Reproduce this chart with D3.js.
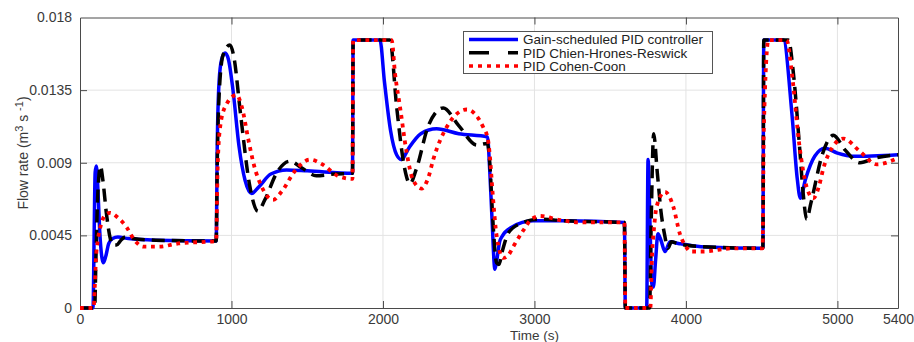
<!DOCTYPE html>
<html><head><meta charset="utf-8">
<script src="https://cdn.jsdelivr.net/npm/d3@7"></script>
<style>body{margin:0;background:#fff}svg{display:block}text{font-family:"Liberation Sans",Arial,sans-serif}</style>
</head><body><svg id="c" width="914" height="342"></svg>
<script>
const xTicks = [0,1000,2000,3000,4000,5000,5400];
const yTicks = [0,0.0045,0.009,0.0135,0.018];
const yTickLabels = ["0","0.0045","0.009","0.0135","0.018"];
const seriesNames = ["Gain-scheduled PID controller","PID Chien-Hrones-Reswick","PID Cohen-Coon"];

// Gain-scheduled PID
const gsT = [0,86,94,100,108,118,130,145,155,170,190,215,250,320,500,899,906,918,935,958,980,1010,1050,1090,1133,1180,1260,1364,1500,1799,1803,1980,2010,2050,2090,2123,2170,2250,2354,2500,2690,2705,2720,2739,2752,2770,2784,2850,2990,3200,3594,3600,3741,3750,3762,3775,3785,3800,3815,3835,3862,3895,3950,4100,4508,4514,4643,4700,4735,4755,4790,4850,4918,5000,5103,5400];
const gsQ = [0,0,0.0050,0.0084,0.0088,0.0074,0.0048,0.0031,0.0028,0.0032,0.0040,0.0043,0.0044,0.0043,0.0042,0.00415,0.0100,0.0140,0.0154,0.0158,0.0154,0.0135,0.0100,0.0079,0.0071,0.0075,0.0083,0.00855,0.0085,0.00835,0.0166,0.0166,0.0140,0.0110,0.0095,0.0092,0.0099,0.0108,0.0111,0.0108,0.0106,0.0085,0.0055,0.0024,0.0030,0.0041,0.0044,0.0050,0.0054,0.0054,0.0053,0,0,0.0092,0.0055,0.0015,0.0013,0.0030,0.0046,0.0042,0.0035,0.0041,0.0040,0.0038,0.0037,0.0166,0.0166,0.0120,0.0080,0.0068,0.0080,0.0094,0.0099,0.0096,0.0094,0.0095];

// PID Chien-Hrones-Reswick
const chrT = [0,97,105,115,125,135,150,175,200,215,240,270,300,350,500,899,906,920,945,990,1015,1060,1120,1175,1220,1300,1386,1460,1560,1680,1799,1803,2046,2090,2140,2178,2220,2300,2398,2500,2620,2690,2705,2725,2750,2765,2790,2825,2900,3036,3200,3594,3600,3760,3770,3787,3810,3835,3860,3880,3905,3940,4100,4508,4514,4676,4710,4750,4775,4797,4825,4900,4973,5050,5149,5250,5400];
const chrQ = [0,0,0.0030,0.0065,0.0082,0.0088,0.0080,0.0058,0.0043,0.0039,0.0039,0.0042,0.0044,0.0043,0.0042,0.00415,0.0090,0.0135,0.0157,0.0163,0.0156,0.0120,0.0076,0.0060,0.0067,0.0084,0.0091,0.0087,0.0082,0.0083,0.00835,0.0166,0.0166,0.0125,0.0088,0.0077,0.0086,0.0113,0.0124,0.0113,0.0101,0.0102,0.0090,0.0055,0.0028,0.0027,0.0036,0.0046,0.0052,0.0055,0.0054,0.0053,0,0,0.0050,0.0108,0.0085,0.0060,0.0045,0.0037,0.0041,0.0040,0.0038,0.0037,0.0166,0.0166,0.0145,0.0100,0.0070,0.0055,0.0065,0.0095,0.0107,0.0098,0.0090,0.0093,0.0095];

// PID Cohen-Coon
const ccT = [0,90,97,105,118,140,170,198,250,308,360,420,520,650,899,908,925,960,1034,1070,1110,1150,1200,1274,1330,1420,1518,1600,1700,1799,1803,2057,2080,2112,2157,2200,2255,2300,2332,2420,2553,2662,2692,2705,2725,2750,2794,2830,2860,2926,2980,3036,3168,3300,3594,3600,3765,3775,3790,3807,3862,3916,3960,4000,4030,4114,4312,4506,4514,4545,4665,4700,4750,4797,4841,4880,4906,4970,5039,5149,5259,5400];
const ccQ = [0,0,0.0012,0.0030,0.0042,0.0052,0.0058,0.0059,0.0056,0.0050,0.0042,0.0038,0.0038,0.0040,0.00415,0.0085,0.0112,0.0125,0.0132,0.0124,0.0105,0.0088,0.0075,0.0067,0.0072,0.0085,0.0092,0.0089,0.0082,0.0080,0.0166,0.0166,0.0145,0.0125,0.0096,0.0079,0.0074,0.0081,0.0092,0.0112,0.0123,0.0112,0.0105,0.0095,0.0070,0.0045,0.0031,0.0033,0.0038,0.0048,0.0055,0.0057,0.00545,0.0053,0.0053,0,0,0.0030,0.0050,0.0063,0.0072,0.0063,0.0046,0.0038,0.0035,0.0035,0.0037,0.0037,0.0110,0.0166,0.0166,0.0145,0.0100,0.0075,0.0068,0.0076,0.0086,0.0100,0.0105,0.0097,0.0089,0.0093];

const L = 80, R = 898, T = 17.5, B = 308;
const svg = d3.select("#c");
const x = d3.scaleLinear().domain([0,5400]).range([L,R]);
const y = d3.scaleLinear().domain([0,0.018]).range([B,T]);
const txt = "#3a3a3a", axc = "#4a4a4a";
const FS = "14px";

// grid
svg.append("g").selectAll("line").data(xTicks.slice(1,-1)).join("line")
  .attr("x1",d=>x(d)).attr("x2",d=>x(d)).attr("y1",T).attr("y2",B)
  .attr("stroke","#e3e3e3").attr("stroke-width",1);
svg.append("g").selectAll("line").data(yTicks.slice(1,-1)).join("line")
  .attr("x1",L).attr("x2",R).attr("y1",d=>y(d)).attr("y2",d=>y(d))
  .attr("stroke","#e3e3e3").attr("stroke-width",1);

// axes (inward ticks on all sides)
const fmtY = d => yTickLabels[yTicks.indexOf(d)];
const axB = svg.append("g").attr("transform",`translate(0,${B})`)
  .call(d3.axisBottom(x).tickValues(xTicks).tickFormat(d3.format("d")).tickSizeInner(-7).tickSizeOuter(0).tickPadding(6.5));
const axT = svg.append("g").attr("transform",`translate(0,${T})`)
  .call(d3.axisTop(x).tickValues(xTicks).tickFormat("").tickSizeInner(-7).tickSizeOuter(0));
const axL = svg.append("g").attr("transform",`translate(${L},0)`)
  .call(d3.axisLeft(y).tickValues(yTicks).tickFormat(fmtY).tickSizeInner(-7).tickSizeOuter(0).tickPadding(8));
const axR = svg.append("g").attr("transform",`translate(${R},0)`)
  .call(d3.axisRight(y).tickValues(yTicks).tickFormat("").tickSizeInner(-7).tickSizeOuter(0));
[axB,axT,axL,axR].forEach(a=>{
  a.selectAll("path").attr("stroke",axc).attr("stroke-width",1);
  a.selectAll("line").attr("stroke",axc);
  a.selectAll("text").attr("fill",txt).style("font-size",FS).style("font-family",'"Liberation Sans",Arial,sans-serif');
});
// remove tick marks at the box corners
axB.selectAll(".tick").filter(d=>d===0||d===5400).select("line").remove();
axT.selectAll(".tick").filter(d=>d===0||d===5400).select("line").remove();
axL.selectAll(".tick").filter(d=>d===0||d===0.018).select("line").remove();
axR.selectAll(".tick").filter(d=>d===0||d===0.018).select("line").remove();

// labels
svg.append("text").attr("x",x(3000)).attr("y",340.3).attr("text-anchor","middle")
  .attr("fill",txt).style("font-size","13.5px").text("Time (s)");
const yl = svg.append("text").attr("transform","translate(28,153) rotate(-90)").attr("text-anchor","middle")
  .attr("fill",txt).style("font-size",FS);
yl.append("tspan").text("Flow rate (m");
yl.append("tspan").attr("dy",-5.5).style("font-size","11px").text("3");
yl.append("tspan").attr("dy",5.5).text(" s ");
yl.append("tspan").attr("dy",-5.5).style("font-size","11px").text("-1");
yl.append("tspan").attr("dy",5.5).text(")");

// lines
const mk = (ts,qs)=>ts.map((t,i)=>[t,qs[i]]);
const line = d3.line().x(d=>x(d[0])).y(d=>y(d[1])).curve(d3.curveMonotoneX);
const styles = [
  {c:"#0000ff", w:3.5, dash:null, legDash:null},
  {c:"#000000", w:3.5, dash:"13,7", legDash:"20,19"},
  {c:"#ff0000", w:3.8, dash:"3.8,4.7", legDash:"4,5"}
];
const data = [mk(gsT,gsQ), mk(chrT,chrQ), mk(ccT,ccQ)];
data.forEach((d,i)=>{
  svg.append("path").datum(d).attr("d",line).attr("fill","none")
    .attr("stroke",styles[i].c).attr("stroke-width",styles[i].w)
    .attr("stroke-dasharray",styles[i].dash).attr("stroke-linejoin","round");
});

// legend
const lg = svg.append("g");
lg.append("rect").attr("x",463.5).attr("y",31.5).attr("width",249).attr("height",42)
  .attr("fill","#fff").attr("stroke","#555").attr("stroke-width",1);
seriesNames.forEach((n,i)=>{
  const yy = 39.5 + i*13.3;
  lg.append("line").attr("x1",469).attr("x2",518).attr("y1",yy).attr("y2",yy)
    .attr("stroke",styles[i].c).attr("stroke-width",3.5).attr("stroke-dasharray",styles[i].legDash);
  lg.append("text").attr("x",523).attr("y",yy+4.7).attr("fill","#222").style("font-size","13.5px").text(n);
});
</script></body></html>
